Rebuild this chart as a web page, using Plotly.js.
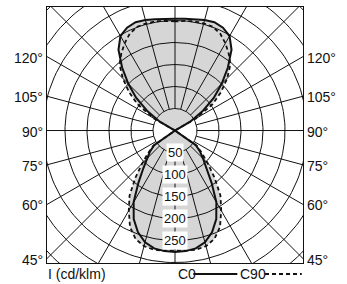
<!DOCTYPE html>
<html><head><meta charset="utf-8">
<script src="https://cdn.plot.ly/plotly-3.0.1.min.js"></script>
<style>html,body{margin:0;padding:0;background:#fff}</style>
</head><body><div id="chart" style="width:347px;height:284px"></div>
<script>
// gamma angle measured from straight down (0) to straight up (180), cd/klm
const gammaDeg = [0,5,10,15,20,25,30,35,40,45,50,55,60,65,70,75,80,85,90,95,100,105,110,115,120,125,130,135,140,145,150,155,160,165,170,175,180];
const c0  = [276,275,272,263,246,222,188,145,112,90,74,58,0,0,0,0,0,0,0,0,0,0,0,0,40,76,115,150,187,224,248,258,262,260,257,255,254];
const c90 = [273,274,275,272,262,242,210,180,140,105,80,60,0,0,0,0,0,0,0,0,0,0,0,0,55,104,137,168,196,213,229,243,251,252,252,250,248];
const ringValues = [50,100,150,200,250,300,350,400,450];
const ringLabels = [50,100,150,200,250];
const spokeAngles = [0,15,30,45,60,75,90,105,120,135,150,165,180,195,210,225,240,255,270,285,300,315,330,345];
const sideAngles = [45,60,75,90,105,120];
const xHalf = 290.9, yMin = -301, yMax = 280.7;

const rad = d => d*Math.PI/180;
function lobe(vals){
  const xs=[], ys=[], n=gammaDeg.length;
  for(let i=n-1;i>=0;i--){const a=rad(gammaDeg[i]);xs.push(-vals[i]*Math.sin(a));ys.push(-vals[i]*Math.cos(a));}
  for(let i=1;i<n;i++){const a=rad(gammaDeg[i]);xs.push(vals[i]*Math.sin(a));ys.push(-vals[i]*Math.cos(a));}
  return {x:xs,y:ys};
}
const L0 = lobe(c0), L90 = lobe(c90);
const fillCol = '#d6d6d6';
const traces = [];
traces.push({x:L0.x,y:L0.y,mode:'lines',fill:'toself',fillcolor:fillCol,line:{width:0,color:fillCol}});
traces.push({x:L90.x,y:L90.y,mode:'lines',fill:'toself',fillcolor:fillCol,line:{width:0,color:fillCol}});
// rings
const rx=[], ry=[];
ringValues.forEach(r=>{for(let d=0;d<=360;d+=2){rx.push(r*Math.sin(rad(d)));ry.push(r*Math.cos(rad(d)));}rx.push(null);ry.push(null);});
traces.push({x:rx,y:ry,mode:'lines',line:{color:'#111',width:1}});
// spokes
const sx=[], sy=[];
spokeAngles.forEach(d=>{const a=rad(d);sx.push(50*Math.sin(a),700*Math.sin(a),null);sy.push(-50*Math.cos(a),-700*Math.cos(a),null);});
traces.push({x:sx,y:sy,mode:'lines',line:{color:'#111',width:1}});
traces.push({x:L90.x,y:L90.y,mode:'lines',line:{color:'#111',width:1.8,dash:'4px,3px'}});
traces.push({x:L0.x,y:L0.y,mode:'lines',line:{color:'#111',width:2}});

const font = {family:'"Liberation Sans", Arial, sans-serif', size:14, color:'#111'};
const ann = [];
ringLabels.forEach(r=>ann.push({x:0,y:-r,xref:'x',yref:'y',text:String(r),showarrow:false,bgcolor:'#fff',borderpad:1,font:Object.assign({},font,{size:13})}));
sideAngles.forEach(d=>{
  const a=rad(d); const y=-xHalf*Math.cos(a)/Math.sin(a);
  ann.push({xref:'paper',yref:'y',x:0,y:y,xanchor:'right',xshift:-2,yshift:-1,text:d+'°',showarrow:false,font:font});
  ann.push({xref:'paper',yref:'y',x:1,y:y,xanchor:'left',xshift:2,yshift:-1,text:d+'°',showarrow:false,font:font});
});
ann.push({xref:'paper',yref:'paper',x:0,y:0,xanchor:'left',yanchor:'middle',yshift:-11,xshift:-1,text:'I (cd/klm)',showarrow:false,font:font});
ann.push({xref:'paper',yref:'paper',x:0.5066,y:0,xanchor:'left',yanchor:'middle',yshift:-11,xshift:-1,text:'C0',showarrow:false,font:font});
ann.push({xref:'paper',yref:'paper',x:0.7512,y:0,xanchor:'left',yanchor:'middle',yshift:-11,xshift:-1,text:'C90',showarrow:false,font:font});
const ly = -11/256;
const shapes = [
  {type:'line',xref:'paper',yref:'paper',x0:0.5715,x1:0.7434,y0:ly,y1:ly,line:{color:'#111',width:2}},
  {type:'line',xref:'paper',yref:'paper',x0:0.8516,x1:0.995,y0:ly,y1:ly,line:{color:'#111',width:1.8,dash:'4px,3px'}}
];
const layout = {
  width:347,height:284,margin:{l:47,r:44,t:7,b:21},
  paper_bgcolor:'#fff',plot_bgcolor:'#fff',showlegend:false,hovermode:false,
  xaxis:{range:[-xHalf,xHalf],showgrid:false,zeroline:false,showticklabels:false,ticks:'',showline:true,mirror:true,linecolor:'#111',linewidth:1},
  yaxis:{range:[yMin,yMax],showgrid:false,zeroline:false,showticklabels:false,ticks:'',showline:true,mirror:true,linecolor:'#111',linewidth:1},
  annotations:ann,shapes:shapes,font:font
};
Plotly.newPlot('chart',traces,layout,{staticPlot:true,displayModeBar:false});
</script></body></html>
